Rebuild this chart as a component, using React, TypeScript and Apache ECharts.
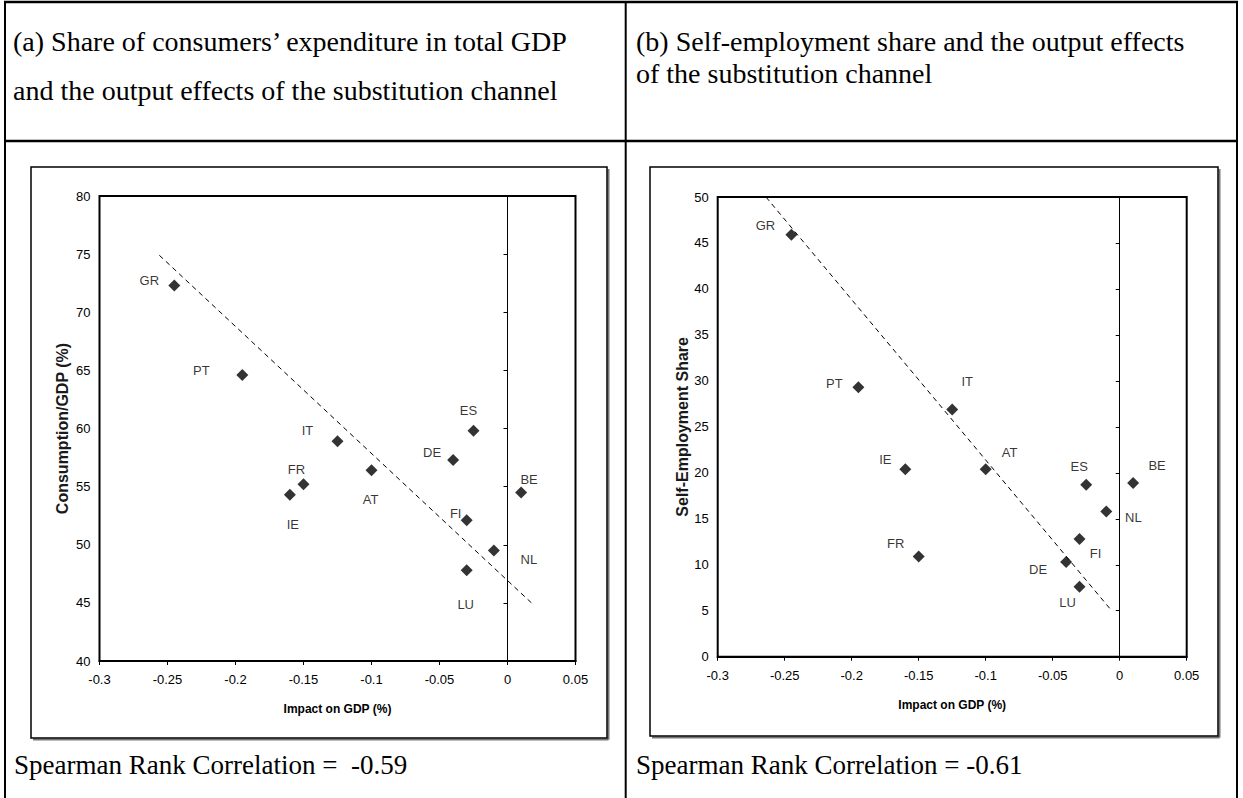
import React, { useEffect, useRef } from "react";
import * as echarts from "echarts";

// ---- data ----
const countries = ["GR", "PT", "IT", "ES", "DE", "FR", "AT", "IE", "BE", "FI", "NL", "LU"];
const impactOnGdp = [-0.245, -0.195, -0.125, -0.025, -0.04, -0.15, -0.1, -0.16, 0.01, -0.03, -0.01, -0.03];
const consumptionShare = [72.3, 64.6, 58.9, 59.8, 57.3, 55.2, 56.4, 54.3, 54.5, 52.1, 49.5, 47.8];
const selfEmploymentShare = [45.9, 29.3, 26.9, 18.7, 10.3, 10.9, 20.4, 20.4, 18.9, 12.8, 15.8, 7.6];
const trendA = [[-0.256, 74.9], [0.0176, 45]];
const trendB = [[-0.264, 50], [-0.006, 5]];
const xRange = [-0.3, 0.05];
const xStep = 0.05;
const yRangeA = [40, 80];
const yRangeB = [0, 50];
const yStep = 5;
const titleA = ["(a) Share of consumers\u2019 expenditure in total GDP", "and the output effects of the substitution channel"];
const titleB = ["(b) Self-employment share and the output effects", "of the substitution channel"];
const spearmanA = "Spearman Rank Correlation =  -0.59";
const spearmanB = "Spearman Rank Correlation = -0.61";
const xName = "Impact on GDP (%)";
const yNameA = "Consumption/GDP (%)";
const yNameB = "Self-Employment Share";

// ---- label placement (pixels, relative to each marker) ----
const labelOffsetA = [[-25, -5], [-41, -5], [-30, -11], [-5, -20], [-21, -7], [-7, -15], [-1, 29], [3, 30], [8, -13], [-11, -7], [35, 9], [-1, 34]];
const labelOffsetB = [[-26, -9], [-24, -4], [15, -28], [-7, -18], [-28, 7], [-23, -13], [24, -17], [-20, -10], [24, -17], [16, 14], [27, 6], [-12, 16]];

const SANS = '"Liberation Sans", Arial, sans-serif';
const SERIF = '"Liberation Serif", "Times New Roman", serif';

function scatterData(ys: number[], offsets: number[][]) {
  return countries.map((c, i) => ({
    name: c,
    value: [impactOnGdp[i], ys[i]],
    label: { offset: offsets[i] },
  }));
}

function xAxisFor(gridIndex: number) {
  return {
    gridIndex,
    type: "value",
    min: xRange[0],
    max: xRange[1],
    interval: xStep,
    axisLine: { show: true, onZero: false, lineStyle: { color: "#000", width: 2 } },
    axisTick: { show: true, inside: false, length: 4, lineStyle: { color: "#000", width: 1 } },
    axisLabel: { color: "#000", fontSize: 13, fontFamily: SANS, margin: 12 },
    splitLine: { show: false },
    name: xName,
    nameLocation: "middle",
    nameGap: 42,
    nameTextStyle: { color: "#000", fontSize: 12, fontWeight: "bold", fontFamily: SANS },
  };
}

function yAxesFor(gridIndex: number, range: number[], name: string, nameGap: number) {
  return [
    {
      gridIndex,
      type: "value",
      position: "left",
      min: range[0],
      max: range[1],
      interval: yStep,
      axisLine: { show: false, onZero: false },
      axisTick: { show: false },
      axisLabel: { color: "#000", fontSize: 13, fontFamily: SANS, margin: 9 },
      splitLine: { show: false },
      name,
      nameLocation: "middle",
      nameGap,
      nameTextStyle: { color: "#1a1a1a", fontSize: 16, fontWeight: "bold", fontFamily: SANS },
    },
    {
      gridIndex,
      type: "value",
      position: "left",
      min: range[0],
      max: range[1],
      interval: yStep,
      axisLine: { show: true, onZero: true, lineStyle: { color: "#000", width: 1 } },
      axisTick: { show: true, inside: false, length: 4, lineStyle: { color: "#000", width: 1 } },
      axisLabel: { show: false },
      splitLine: { show: false },
    },
  ];
}

function scatterSeries(idx: number, ys: number[], offsets: number[][]) {
  return {
    type: "scatter",
    xAxisIndex: idx,
    yAxisIndex: idx * 2,
    symbol: "diamond",
    symbolSize: 12,
    itemStyle: { color: "#000" },
    label: {
      show: true,
      position: "inside",
      formatter: "{b}",
      color: "#000",
      fontSize: 13,
      fontFamily: SANS,
      textBorderWidth: 0,
    },
    data: scatterData(ys, offsets),
    z: 3,
  };
}

function trendSeries(idx: number, data: number[][]) {
  return {
    type: "line",
    xAxisIndex: idx,
    yAxisIndex: idx * 2,
    data,
    symbol: "none",
    silent: true,
    lineStyle: { color: "#000", width: 1, type: [5, 4] },
    z: 2,
  };
}

function line(x1: number, y1: number, x2: number, y2: number, w: number, color = "#000") {
  return { type: "line", silent: true, shape: { x1, y1, x2, y2 }, style: { stroke: color, lineWidth: w } };
}

function text(t: string, x: number, y: number, font: string) {
  return { type: "text", silent: true, x, y, style: { text: t, font, fill: "#000", verticalAlign: "middle", align: "left" } };
}

function frame(x: number, y: number, w: number, h: number) {
  return [
    line(x + w + 1.5, y + 2, x + w + 1.5, y + h + 1.5, 2, "#777"),
    line(x + 2, y + h + 1.5, x + w + 1.5, y + h + 1.5, 2, "#777"),
    { type: "rect", silent: true, shape: { x, y, width: w, height: h }, style: { fill: "none", stroke: "#000", lineWidth: 1.5 } },
  ];
}

const titleFont = `28px ${SERIF}`;
const noteFont = `27px ${SERIF}`;

const option = {
  animation: false,
  backgroundColor: "#fff",
  grid: [
    { left: 99.5, top: 196, width: 476, height: 465, show: true, borderColor: "#000", borderWidth: 2, backgroundColor: "transparent" },
    { left: 717.7, top: 197, width: 469, height: 459.7, show: true, borderColor: "#000", borderWidth: 2, backgroundColor: "transparent" },
  ],
  xAxis: [xAxisFor(0), xAxisFor(1)],
  yAxis: [...yAxesFor(0, yRangeA, yNameA, 29), ...yAxesFor(1, yRangeB, yNameB, 27)],
  series: [
    trendSeries(0, trendA),
    scatterSeries(0, consumptionShare, labelOffsetA),
    trendSeries(1, trendB),
    scatterSeries(1, selfEmploymentShare, labelOffsetB),
  ],
  graphic: {
    elements: [
      // table rules
      line(4, 2, 1238, 2, 2.5),
      line(5, 1, 5, 798, 2),
      line(625.7, 1, 625.7, 798, 2),
      line(1237, 1, 1237, 798, 2),
      line(5, 141, 1237, 141, 2.5),
      // chart frames
      ...frame(31, 167, 576, 571),
      ...frame(650, 167, 568, 569),
      // panel titles
      text(titleA[0], 13, 41.5, titleFont),
      text(titleA[1], 13, 90, titleFont),
      text(titleB[0], 636, 41, titleFont),
      text(titleB[1], 636, 73, titleFont),
      // correlations
      text(spearmanA, 14, 765, noteFont),
      text(spearmanB, 636, 765, noteFont),
    ],
  },
};

export default function App() {
  const ref = useRef<HTMLDivElement>(null);
  useEffect(() => {
    const chart = echarts.init(ref.current!, null, { renderer: "svg" });
    chart.setOption(option as any);
    return () => chart.dispose();
  }, []);
  return (
    <div
      ref={ref}
      style={{ position: "absolute", left: 0, top: 0, width: 1243, height: 798, background: "#fff" }}
    />
  );
}
